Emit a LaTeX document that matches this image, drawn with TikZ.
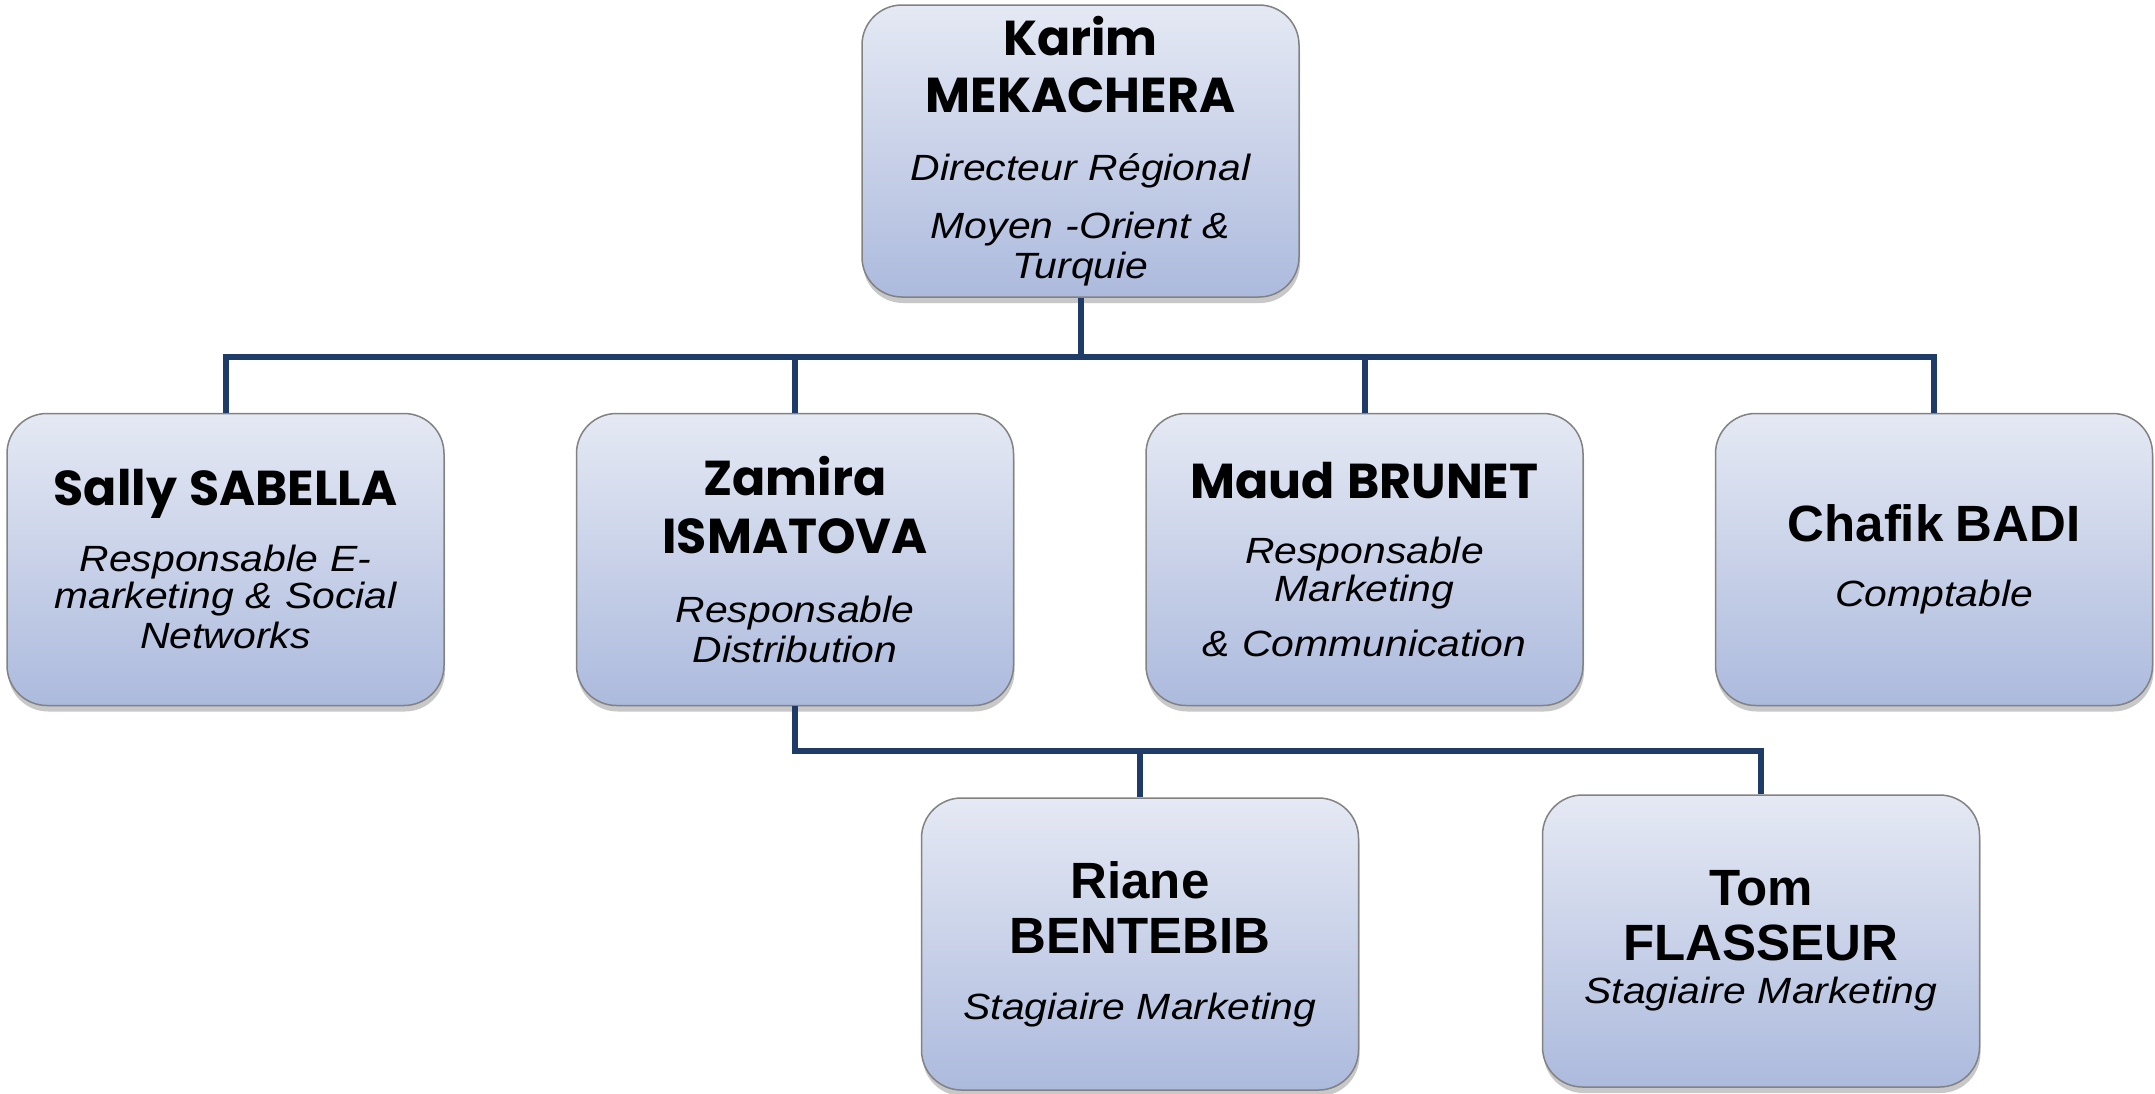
\documentclass[tikz,border=0pt]{standalone}
\usepackage{fontspec}
\setmainfont{Liberation Sans}
\newfontfamily\gothic{Poppins}
\newfontfamily\rolefont{Liberation Sans}[FakeStretch=1.12]
\usetikzlibrary{shadows}
\definecolor{boxtop}{RGB}{229,233,244}
\definecolor{boxbot}{RGB}{172,186,221}
\definecolor{boxline}{RGB}{130,130,130}
\definecolor{linkcol}{RGB}{31,60,104}
\newcommand\gnm{\gothic\bfseries\upshape\fontsize{49}{40}\selectfont}
\newcommand\anm{\normalfont\bfseries\fontsize{51}{40}\selectfont}
\tikzset{
  person/.style={draw=boxline, line width=1.5pt, rounded corners=40pt,
    top color=boxtop, bottom color=boxbot,
    minimum width=437pt, minimum height=292pt, inner sep=0pt,
    text width=430pt, align=center,
    font=\rolefont\itshape\fontsize{36.5}{40}\selectfont,
    drop shadow={shadow xshift=1pt, shadow yshift=-6pt, opacity=0.3, fill=black!70}},
  linkline/.style={draw=linkcol, line width=6pt}
}
\begin{document}
\begin{tikzpicture}[x=1pt,y=-1pt]
\path[fill=white] (0,0) rectangle (2155,1093);
\useasboundingbox (0,0) rectangle (2155,1093);
\coordinate (bus1) at (0,357);
\coordinate (bus2) at (0,751);

\node[person] (karim) at (1080.5,151)
  {{\gnm Karim\\[17pt]MEKACHERA}\\[28pt]Directeur Régional\\[18pt]Moyen -Orient \&\\Turquie};
\node[person] (sally) at (225.5,559.5)
  {{\gnm Sally SABELLA}\\[26pt]Responsable E-\\[-3pt]marketing \& Social\\Networks};
\node[person] (zamira) at (795,559.5)
  {{\gnm Zamira\\[18pt]ISMATOVA}\\[29pt]Responsable\\Distribution};
\node[person] (maud) at (1364.5,559.5)
  {{\gnm Maud BRUNET}\\[25pt]Responsable\\[-2pt]Marketing\\[15pt]\& Communication};
\node[person] (chafik) at (1934,559.5)
  {{\anm Chafik BADI}\\[25pt]Comptable};
\node[person] (riane) at (1140,944)
  {{\anm Riane\\[15pt]BENTEBIB}\\[26pt]Stagiaire Marketing};
\node[person] (tom) at (1761,941)
  {{\anm Tom\\[15pt]FLASSEUR}\\[3pt]Stagiaire Marketing};

\draw[linkline] (karim.south) -- (karim.south |- bus1);
\draw[linkline] (sally.north) -- (sally.north |- bus1) -- (chafik.north |- bus1) -- (chafik.north);
\draw[linkline] (zamira.north) -- (zamira.north |- bus1);
\draw[linkline] (maud.north) -- (maud.north |- bus1);
\draw[linkline] (zamira.south) -- (zamira.south |- bus2) -- (tom.north |- bus2) -- (tom.north);
\draw[linkline] (riane.north) -- (riane.north |- bus2);
\end{tikzpicture}
\end{document}
